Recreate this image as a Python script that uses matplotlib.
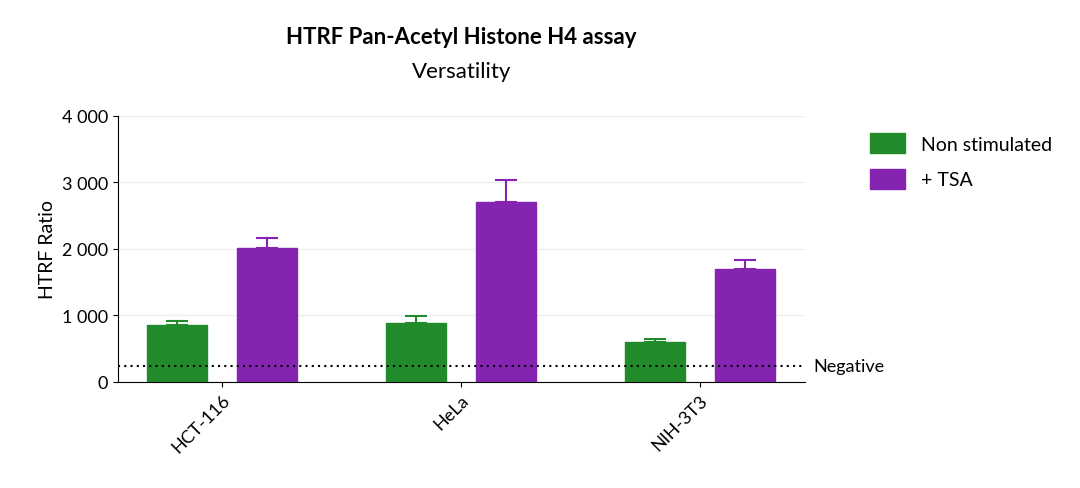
import matplotlib.pyplot as plt
import numpy as np

plt.rcParams['font.family'] = ['Lato', 'DejaVu Sans']

cells = ["HCT-116", "HeLa", "NIH-3T3"]
non_stim = [855, 890, 600]
non_stim_err = [55, 100, 50]
tsa = [2010, 2710, 1700]
tsa_err = [150, 320, 140]
negative = 240

green = "#218a2a"
purple = "#8424b0"

fig = plt.figure(figsize=(10.8, 4.89), dpi=100)
ax = fig.add_axes([0.109, 0.217, 0.636, 0.544])

x = np.arange(len(cells))
w = 0.251
ax.bar(x - 0.188, non_stim, w, color=green, edgecolor=green, label="Non stimulated", zorder=3)
ax.errorbar(x - 0.188, non_stim, yerr=[np.zeros(3), non_stim_err], fmt="none",
            ecolor=green, capsize=8, elinewidth=1.5, capthick=1.5, zorder=4)
ax.bar(x + 0.188, tsa, w, color=purple, edgecolor=purple, label="+ TSA", zorder=3)
ax.errorbar(x + 0.188, tsa, yerr=[np.zeros(3), tsa_err], fmt="none",
            ecolor=purple, capsize=8, elinewidth=1.5, capthick=1.5, zorder=4)

ax.axhline(negative, color="black", linestyle=(0, (1, 2)), linewidth=1.5, zorder=5)
ax.text(1.013, negative, "Negative", transform=ax.get_yaxis_transform(),
        va="center", ha="left", fontsize=13)

ax.set_xlim(-0.435, 2.439)
ax.set_ylim(0, 4000)
ax.set_yticks([0, 1000, 2000, 3000, 4000])
ax.set_yticklabels(["0", "1 000", "2 000", "3 000", "4 000"], fontsize=13)
ax.set_xticks(x)
ax.set_xticklabels(cells, rotation=45, ha="right", rotation_mode="anchor", fontsize=13)
ax.set_ylabel("HTRF Ratio", fontsize=14)
ax.yaxis.grid(True, color="#eeeeee", linewidth=1, zorder=0)
for s in ["top", "right"]:
    ax.spines[s].set_visible(False)

fig.text(0.427, 0.91, "HTRF Pan-Acetyl Histone H4 assay", ha="center",
         fontsize=16, fontweight="bold")
fig.text(0.427, 0.84, "Versatility", ha="center", fontsize=16)

ax.legend(loc="upper left", bbox_to_anchor=(1.07, 1.0), frameon=False,
          fontsize=14, handlelength=1.8, handleheight=1.2, labelspacing=0.8)

fig.savefig("out.png", dpi=100)
